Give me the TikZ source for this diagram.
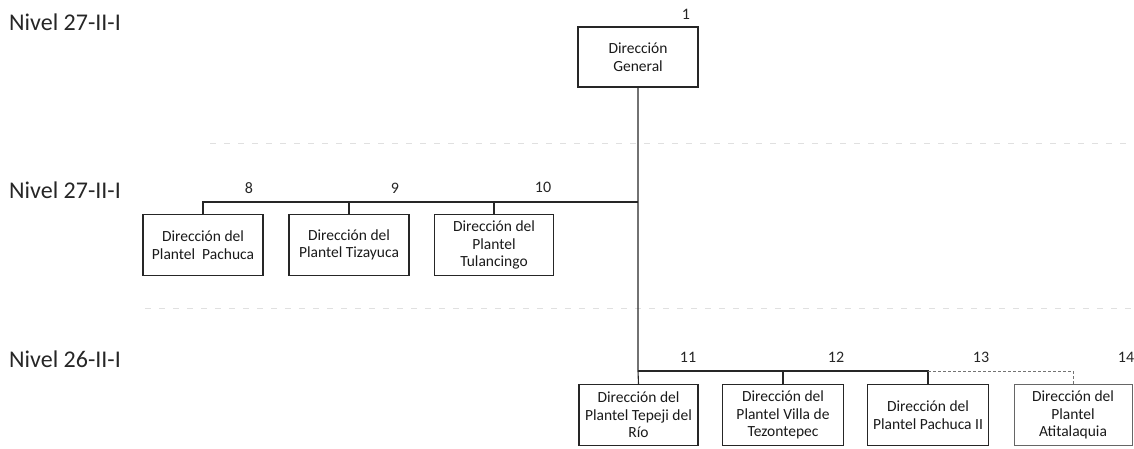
\documentclass[tikz,border=0pt]{standalone}
\usepackage{fontspec}
\setmainfont{Carlito}
\begin{document}
\begin{tikzpicture}[x=1pt,y=-1pt,
  box/.style={draw=black!85, line width=1.1pt, align=center, inner sep=1pt,
    minimum height=61pt, font=\fontsize{15.5}{17.5}\selectfont, text=black!90},
  lvl/.style={anchor=west, inner sep=0pt, font=\fontsize{24}{27}\selectfont, text=black!85},
  num/.style={inner sep=0pt, font=\fontsize{16}{18}\selectfont, text=black!85},
  link/.style={draw=black!85, line width=1.1pt},
  faint/.style={draw=black!55, line width=0.9pt, densely dashed},
  sep/.style={draw=black!12, line width=1pt, dash pattern=on 6pt off 8pt}]
\useasboundingbox (0,0) rectangle (1134,448);
% faint separators
\draw[sep] (210,143) -- (1134,143);
\draw[sep] (145,308) -- (1134,308);
% level labels
\node[lvl] (n1) at (9,22) {Nivel 27-II-I};
\node[lvl] (n2) at (9,190) {Nivel 27-II-I};
\node[lvl] (n3) at (9,359) {Nivel 26-II-I};
% boxes
\node[box, minimum width=120pt, minimum height=60pt] (dg) at (638,57) {Dirección\\General};
\node[box, minimum width=120pt] (b8) at (203,245) {Dirección del\\Plantel\ \ Pachuca};
\node[box, minimum width=120pt] (b9) at (349,245) {Dirección del\\Plantel Tizayuca};
\node[box, minimum width=119pt] (b10) at (494,245) {Dirección del\\Plantel\\Tulancingo};
\node[box, minimum width=119pt] (b11) at (638.5,415) {Dirección del\\Plantel Tepeji del\\Río};
\node[box, minimum width=121pt] (b12) at (783,415) {Dirección del\\Plantel Villa de\\Tezontepec};
\node[box, minimum width=121pt] (b13) at (928,415) {Dirección del\\Plantel Pachuca II};
\node[box, draw=black!60, line width=0.9pt, minimum width=118pt] (b14) at (1073,415) {Dirección del\\Plantel\\Atitalaquia};
% numbers
\node[num] (l1) at (686,14) {1};
\node[num] (l8) at (249,188) {8};
\node[num] (l9) at (395,188) {9};
\node[num] (l10) at (543,187) {10};
\node[num] (l11) at (688,357) {11};
\node[num] (l12) at (836,357) {12};
\node[num] (l13) at (981,357) {13};
\node[num] (l14) at (1126,357) {14};
% junctions
\coordinate (j2) at (dg.south |- 0,202);
\coordinate (j3) at (dg.south |- 0,371);
\coordinate (k13) at (b13.north |- 0,371);
\coordinate (k14) at (b14.north |- 0,371);
% connectors
\draw[link] (dg.south) -- (j3) -- (b11.north);
\draw[link] (j2) -| (b8.north);
\draw[link] (b9.north) -- (b9.north |- j2);
\draw[link] (b10.north) -- (b10.north |- j2);
\draw[link] (j3) -| (b13.north);
\draw[link] (b12.north) -- (b12.north |- j3);
\draw[faint] (k13) -- (k14) -- (b14.north);
\end{tikzpicture}
\end{document}
